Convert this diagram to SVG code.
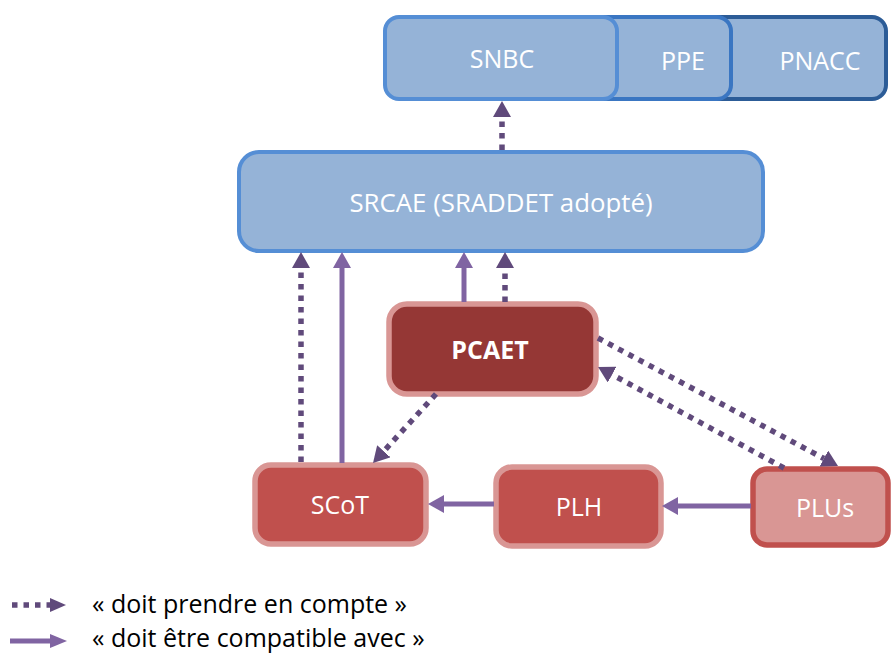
<svg xmlns="http://www.w3.org/2000/svg" width="893" height="655" viewBox="0 0 893 655">
<style>
.lbl{font-family:"Open Sans","Liberation Sans",sans-serif;font-size:25px;fill:#ffffff;text-anchor:middle}
.bold{font-weight:bold}
.leg{font-family:"Open Sans","Liberation Sans",sans-serif;font-size:25px;fill:#000000}
.blue{fill:#95B3D7}
.red{fill:#C0504D;stroke:#D99694;stroke-width:5.5}
.dot{fill:none;stroke:#604A7B;stroke-width:5.5;stroke-dasharray:5.5 6}
.sol{fill:none;stroke:#8064A2;stroke-width:5}
</style>
<defs>
<marker id="hd" markerUnits="userSpaceOnUse" markerWidth="16" markerHeight="18" viewBox="0 0 16 18" refX="0" refY="9" orient="auto"><path d="M0,0 L16,9 L0,18 Z" fill="#604A7B"/></marker>
<marker id="hs" markerUnits="userSpaceOnUse" markerWidth="16" markerHeight="18" viewBox="0 0 16 18" refX="0" refY="9" orient="auto"><path d="M0,0 L16,9 L0,18 Z" fill="#8064A2"/></marker>
<marker id="hdl" markerUnits="userSpaceOnUse" markerWidth="16" markerHeight="14" viewBox="0 0 16 14" refX="0" refY="7" orient="auto"><path d="M0,0 L16,7 L0,14 Z" fill="#604A7B"/></marker>
<marker id="hsl" markerUnits="userSpaceOnUse" markerWidth="17" markerHeight="14" viewBox="0 0 17 14" refX="0" refY="7" orient="auto"><path d="M0,0 L17,7 L0,14 Z" fill="#8064A2"/></marker>
</defs>

<g id="PNACC">
<rect x="650" y="17" width="236" height="82" rx="14" class="blue" stroke="#2C5C97" stroke-width="4"/>
<text x="820" y="70" class="lbl">PNACC</text>
</g>
<g id="PPE">
<rect x="540" y="17" width="191" height="82" rx="14" class="blue" stroke="#3A76C2" stroke-width="4"/>
<text x="683" y="70" class="lbl">PPE</text>
</g>
<g id="SNBC">
<rect x="385" y="17" width="232" height="82" rx="14" class="blue" stroke="#558ED5" stroke-width="4"/>
<text x="502" y="68" class="lbl">SNBC</text>
</g>
<g id="SRCAE">
<rect x="239" y="152" width="524" height="99" rx="20" class="blue" stroke="#558ED5" stroke-width="4"/>
<text x="501" y="212" class="lbl" style="font-size:25.8px">SRCAE (SRADDET adopté)</text>
</g>
<g id="PCAET">
<rect x="389" y="304" width="207" height="90" rx="18" fill="#953735" stroke="#D99694" stroke-width="5.5"/>
<text x="490" y="359" class="lbl bold">PCAET</text>
</g>
<g id="SCoT">
<rect x="255" y="465" width="171" height="79" rx="16" class="red"/>
<text x="340" y="514" class="lbl">SCoT</text>
</g>
<g id="PLH">
<rect x="496" y="467" width="165" height="79" rx="16" class="red"/>
<text x="579" y="516" class="lbl">PLH</text>
</g>
<g id="PLUs">
<rect x="753" y="469" width="135" height="76" rx="14" fill="#D99694" stroke="#C0504D" stroke-width="5.5"/>
<text x="825" y="517" class="lbl">PLUs</text>
</g>

<g id="connectors">
<path class="dot" d="M502,150 L502,117" marker-end="url(#hd)"/>
<path class="dot" d="M301,462 L301,268" marker-end="url(#hd)"/>
<path class="sol" d="M342,463 L342,268" marker-end="url(#hs)"/>
<path class="sol" d="M464,302 L464,268" marker-end="url(#hs)"/>
<path class="dot" d="M505,302 L505,268" marker-end="url(#hd)"/>
<path class="dot" d="M436,394 L383.8,451.2" marker-end="url(#hd)"/>
<path class="dot" d="M598,338 L823.9,458.5" marker-end="url(#hd)"/>
<path class="dot" d="M784,468 L612.1,374.6" marker-end="url(#hd)"/>
<path class="sol" d="M751,506 L678,506" marker-end="url(#hs)"/>
<path class="sol" d="M494,504 L444,504" marker-end="url(#hs)"/>
</g>

<g id="legend">
<path class="dot" d="M12,605 L50,605" stroke-dasharray="5 5" marker-end="url(#hdl)"/>
<text x="92" y="613" class="leg">« doit prendre en compte »</text>
<path class="sol" d="M10,641 L50,641" stroke-width="6" marker-end="url(#hsl)"/>
<text x="92" y="647" class="leg">« doit être compatible avec »</text>
</g>
</svg>
